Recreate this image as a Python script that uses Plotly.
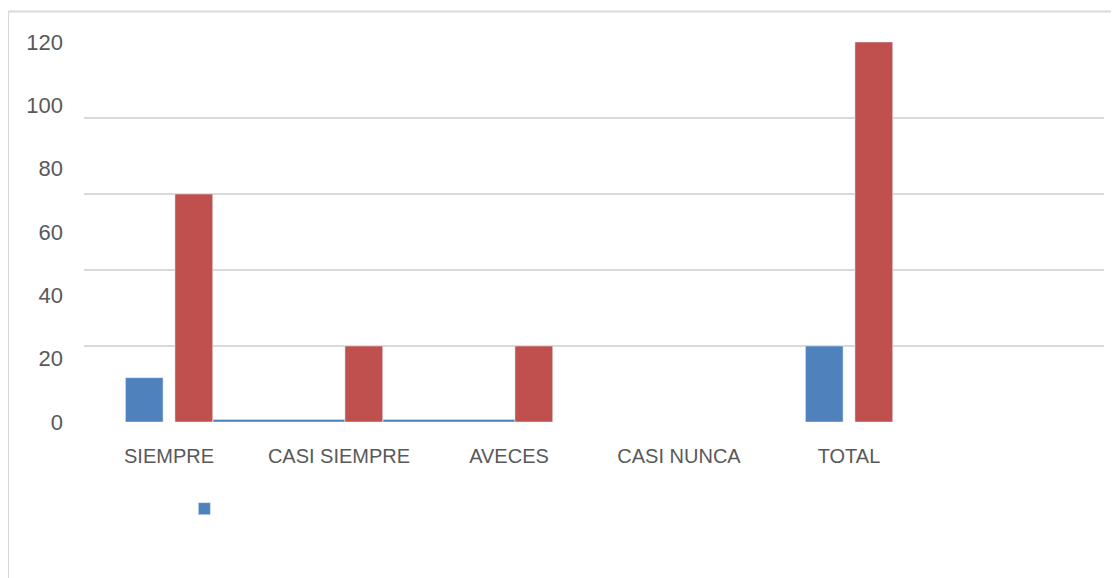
import plotly.graph_objects as go

categories = ["SIEMPRE", "CASI SIEMPRE", "AVECES", "CASI NUNCA", "TOTAL"]
blue_values = [14, 0.8, 0.8, None, 24]
red_values = [72, 24, 24, None, 120]
y_tick_values = [0, 20, 40, 60, 80, 100, 120]
grid_values = [0, 24, 48, 72, 96, 120]

# bar placement styles (category units)
blue_offset = [-0.256, -0.741, -0.741, -0.256, -0.256]
blue_width = [0.221, 0.776, 0.776, 0.221, 0.221]
red_offset = [0.035] * 5
red_width = [0.222] * 5

BLUE = "#4F81BD"
RED = "#C0504D"
TXT = "#595959"
GRID = "#D9D9D9"

fig = go.Figure()
fig.add_trace(go.Bar(x=categories, y=blue_values, name="", marker_color=BLUE,
                     offset=blue_offset, width=blue_width, yaxis="y",
                     showlegend=True))
fig.add_trace(go.Bar(x=categories, y=red_values, name="", marker_color=RED,
                     offset=red_offset, width=red_width, yaxis="y2",
                     showlegend=False))

fig.update_layout(
    width=1111, height=570,
    margin=dict(l=76, r=15, t=34, b=156),
    paper_bgcolor="white", plot_bgcolor="white",
    barmode="overlay",
    xaxis=dict(type="category", categoryorder="array", categoryarray=categories,
               range=[-0.5, 5.5], showgrid=False, zeroline=False, showline=False,
               ticks="", ticklabelstandoff=20,
               tickfont=dict(family="Liberation Sans, Arial", size=20, color=TXT)),
    yaxis=dict(range=[0, 120], tickmode="array", tickvals=grid_values,
               showticklabels=False, showgrid=True, gridcolor=GRID, gridwidth=2,
               zeroline=False, showline=False, ticks=""),
    yaxis2=dict(range=[0, 120], overlaying="y", side="left", tickmode="array",
                tickvals=y_tick_values, showgrid=False, zeroline=False,
                showline=False, ticks="", ticklabelstandoff=20,
                tickfont=dict(family="Liberation Sans, Arial", size=22, color=TXT)),
    legend=dict(x=0.0984, y=-0.187, xanchor="left", yanchor="top",
                bgcolor="rgba(0,0,0,0)", font=dict(size=14, color=TXT)),
    shapes=[dict(type="rect", xref="paper", yref="paper",
                 x0=-0.0745, x1=1.05, y0=-0.45, y1=1.08,
                 line=dict(color=GRID, width=2), layer="below")],
)

fig.write_html("out.html")
